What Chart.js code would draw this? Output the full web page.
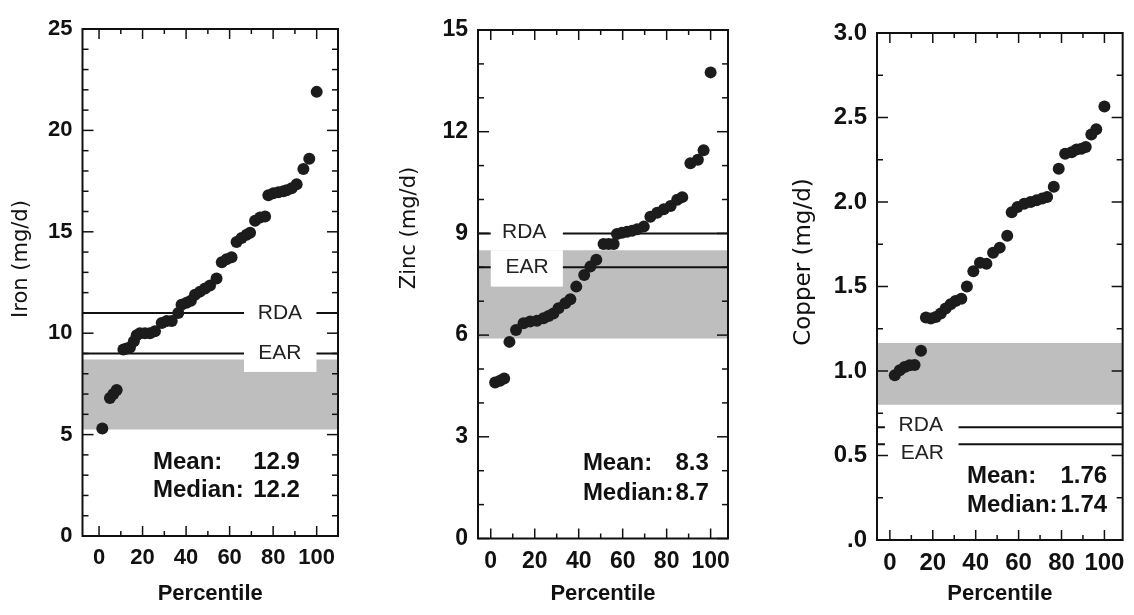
<!DOCTYPE html>
<html>
<head>
<meta charset="utf-8">
<script src="https://cdn.jsdelivr.net/npm/chart.js@4.4.1/dist/chart.umd.min.js"></script>
<style>
  html, body { margin: 0; padding: 0; background: #fff; }
  #wrap { position: relative; width: 1134px; height: 615px; overflow: hidden; }
  .panel { position: absolute; top: 0; height: 615px; }
  #p1 { left: 0; width: 380px; }
  #p2 { left: 380px; width: 380px; }
  #p3 { left: 760px; width: 374px; }
</style>
</head>
<body>
<div id="wrap">
  <div class="panel" id="p1"><canvas id="c1"></canvas></div>
  <div class="panel" id="p2"><canvas id="c2"></canvas></div>
  <div class="panel" id="p3"><canvas id="c3"></canvas></div>
</div>
<script>
// valeurs (percentile, apport en mg/d)
var ironPct = [1.5, 5, 6.6, 8.1, 11.2, 12.7, 14.2, 16, 17.3, 18.8, 21.1, 23.4, 25.7, 28.8, 31.1, 33.4, 36.4, 37.9, 40.2, 42.2, 44.1, 46.4, 48.7, 51, 54, 56.4, 58.6, 60.9, 63.2, 65.5, 67.8, 69.4, 71.7, 74, 76.3, 77.8, 80.1, 82.4, 84.7, 86.2, 88.5, 90.8, 93.9, 96.6, 100];
var ironVal = [5.3, 6.8, 7.0, 7.2, 9.2, 9.25, 9.3, 9.6, 9.9, 10.0, 10.0, 10.0, 10.1, 10.5, 10.6, 10.6, 11.0, 11.4, 11.5, 11.6, 11.9, 12.05, 12.2, 12.35, 12.7, 13.5, 13.65, 13.75, 14.5, 14.7, 14.85, 14.95, 15.55, 15.7, 15.75, 16.8, 16.9, 16.95, 17.0, 17.05, 17.15, 17.35, 18.1, 18.6, 21.9];

var zincPct = [2, 4.2, 6.1, 8.5, 11.5, 14.9, 17.9, 21, 24, 26.3, 28.5, 30.8, 33.9, 36.2, 38.9, 42.5, 45.3, 48, 51.3, 53.6, 55.9, 57.4, 59.7, 62, 64.3, 66.6, 69.6, 72.6, 75.7, 78.7, 81.8, 84.8, 87.1, 90.8, 94.2, 96.8, 100];
var zincVal = [4.6, 4.65, 4.72, 5.8, 6.15, 6.35, 6.4, 6.42, 6.5, 6.56, 6.64, 6.79, 6.94, 7.06, 7.43, 7.77, 8.02, 8.22, 8.69, 8.69, 8.69, 8.98, 9.02, 9.05, 9.08, 9.12, 9.2, 9.49, 9.61, 9.71, 9.81, 9.99, 10.07, 11.07, 11.17, 11.45, 13.75];

var copperPct = [2.3, 4.6, 6.9, 9.2, 11.5, 14.5, 16.8, 19.1, 21.4, 23.7, 26, 28.3, 30.6, 33.3, 35.9, 38.9, 42, 45, 48.1, 51.2, 54.7, 56.8, 59.5, 62.6, 65.6, 68.4, 71, 73.3, 76.4, 78.7, 81.7, 84.7, 87, 89.3, 91.3, 93.9, 96.2, 100];
var copperVal = [0.975, 1.005, 1.024, 1.034, 1.035, 1.12, 1.316, 1.31, 1.32, 1.34, 1.37, 1.395, 1.414, 1.428, 1.5, 1.59, 1.64, 1.635, 1.7, 1.73, 1.8, 1.94, 1.97, 1.99, 2.0, 2.01, 2.02, 2.03, 2.09, 2.197, 2.285, 2.295, 2.31, 2.315, 2.325, 2.4, 2.43, 2.565];

var pctTicks = [0, 20, 40, 60, 80, 100];
var ironTicks = [0, 5, 10, 15, 20, 25];
var zincTicks = [0, 3, 6, 9, 12, 15];
var copperTicks = [0, 0.5, 1.0, 1.5, 2.0, 2.5, 3.0];

// RDA, EAR, bande grise [bas, haut], moyenne et mediane
var ironRef = [11, 9];
var zincRef = [9, 8];
var copperRef = [0.667, 0.567];
var ironBand = [5.25, 8.7];
var zincBand = [5.9, 8.5];
var copperBand = [0.8, 1.165];
var ironStats = ['12.9', '12.2'];
var zincStats = ['8.3', '8.7'];
var copperStats = ['1.76', '1.74'];

var tickFont = "'Liberation Sans', Arial, sans-serif";
var wideFont = "'DejaVu Sans', sans-serif";

// mise en page de chaque panneau (pixels + positions en unites des axes)
var panels = {
  c1: {
    pct: ironPct, val: ironVal, yTicks: ironTicks, ref: ironRef, band: ironBand, stats: ironStats,
    xMin: -7.6, xMax: 109.8, yMax: 25, minor: 1,
    pad: { top: 29, right: 42 }, leftW: 82.5, bottomH: 79,
    title: 'Iron (mg/d)', titlePos: [22, 259], titleSize: 21, tickSize: 22,
    labels: [
      { text: 'RDA', x: 83.1, y: 11, box: [66.6, 99.9, 10.0, 12.0] },
      { text: 'EAR', x: 83.1, y: 9, box: [66.6, 99.9, 8.09, 10.0] }
    ],
    statPos: { left: 24.8, right: 92.3, mean: 3.65, median: 2.27 }
  },
  c2: {
    pct: zincPct, val: zincVal, yTicks: zincTicks, ref: zincRef, band: zincBand, stats: zincStats,
    xMin: -5.8, xMax: 107.9, yMax: 15, minor: 1,
    pad: { top: 30, right: 32 }, leftW: 98, bottomH: 76.5,
    title: 'Zinc (mg/d)', titlePos: [30, 228], titleSize: 21, tickSize: 23,
    labels: [
      { text: 'RDA', x: 15.2, y: 9.05, box: [0, 32.8, 8.5, 9.6] },
      { text: 'EAR', x: 16.5, y: 8.0, box: [0, 32.8, 7.43, 8.5] }
    ],
    statPos: { left: 41.9, right: 99.2, mean: 2.22, median: 1.33 }
  },
  c3: {
    pct: copperPct, val: copperVal, yTicks: copperTicks, ref: copperRef, band: copperBand, stats: copperStats,
    xMin: -6, xMax: 108.5, yMax: 3, minor: 0.25,
    pad: { top: 33, right: 7.5 }, leftW: 117, bottomH: 75,
    title: 'Copper (mg/d)', titlePos: [44, 262], titleSize: 23, tickSize: 24,
    labels: [
      { text: 'RDA', x: 14.4, y: 0.68, box: [-2.3, 32, 0.605, 0.76] },
      { text: 'EAR', x: 15.1, y: 0.514, box: [-2.3, 32, 0.44, 0.605] }
    ],
    statPos: { left: 35.9, right: 101.3, mean: 0.374, median: 0.207 }
  }
};

function line(ctx, x1, y1, x2, y2) {
  ctx.beginPath();
  ctx.moveTo(x1, y1);
  ctx.lineTo(x2, y2);
  ctx.stroke();
}

var figurePlugin = {
  id: 'figure',
  // boites blanches des etiquettes RDA / EAR, sous les points
  beforeDatasetDraw: function (chart, args) {
    if (!chart.data.datasets[args.index].isDots) return;
    var p = panels[chart.canvas.id];
    var ctx = chart.ctx, xs = chart.scales.x, ys = chart.scales.y;
    ctx.save();
    p.labels.forEach(function (l) {
      var x0 = xs.getPixelForValue(l.box[0]), x1 = xs.getPixelForValue(l.box[1]);
      var y0 = ys.getPixelForValue(l.box[3]), y1 = ys.getPixelForValue(l.box[2]);
      ctx.fillStyle = '#fff';
      ctx.fillRect(x0, y0, x1 - x0, y1 - y0);
      ctx.fillStyle = '#222';
      ctx.font = '21px ' + tickFont;
      ctx.textAlign = 'center';
      ctx.textBaseline = 'middle';
      ctx.fillText(l.text, xs.getPixelForValue(l.x), ys.getPixelForValue(l.y));
    });
    ctx.restore();
  },
  afterDraw: function (chart) {
    var p = panels[chart.canvas.id];
    var ctx = chart.ctx, a = chart.chartArea, xs = chart.scales.x, ys = chart.scales.y;
    ctx.save();
    ctx.strokeStyle = '#111';
    ctx.lineWidth = 2;
    ctx.strokeRect(a.left, a.top, a.right - a.left, a.bottom - a.top);
    ctx.lineWidth = 1.5;
    // petites graduations vers l'interieur, sur les 4 cotes
    var v, px, len;
    for (v = 0; v <= 100.001; v += 10) {
      px = xs.getPixelForValue(v);
      len = (Math.round(v) % 20 === 0) ? 10 : 5;
      line(ctx, px, a.bottom, px, a.bottom - len);
      line(ctx, px, a.top, px, a.top + len);
    }
    var major = p.yTicks[1] - p.yTicks[0];
    for (v = 0; v <= p.yMax + 1e-6; v += p.minor) {
      px = ys.getPixelForValue(v);
      var r = v / major;
      len = (Math.abs(r - Math.round(r)) < 1e-6) ? 11 : 6;
      line(ctx, a.left, px, a.left + len, px);
      line(ctx, a.right, px, a.right - len, px);
    }
    // moyenne et mediane
    ctx.fillStyle = '#111';
    ctx.font = 'bold 24px ' + tickFont;
    ctx.textBaseline = 'middle';
    var sx0 = xs.getPixelForValue(p.statPos.left), sx1 = xs.getPixelForValue(p.statPos.right);
    var ym = ys.getPixelForValue(p.statPos.mean), yd = ys.getPixelForValue(p.statPos.median);
    ctx.textAlign = 'left';
    ctx.fillText('Mean:', sx0, ym);
    ctx.fillText('Median:', sx0, yd);
    ctx.textAlign = 'right';
    ctx.fillText(p.stats[0], sx1, ym);
    ctx.fillText(p.stats[1], sx1, yd);
    // titre de l'axe y
    ctx.translate(p.titlePos[0], p.titlePos[1]);
    ctx.rotate(-Math.PI / 2);
    ctx.textAlign = 'center';
    ctx.font = p.titleSize + 'px ' + wideFont;
    ctx.fillStyle = '#111';
    ctx.fillText(p.title, 0, 0);
    ctx.restore();
  }
};

function yLabel(value) {
  return this.chart.canvas.id === 'c3' ? (value === 0 ? '.0' : value.toFixed(1)) : String(value);
}

function makeChart(id) {
  var p = panels[id];
  var dots = p.pct.map(function (x, i) { return { x: x, y: p.val[i] }; });
  var flat = function (y) { return [{ x: p.xMin, y: y }, { x: p.xMax, y: y }]; };
  return new Chart(document.getElementById(id), {
    type: 'scatter',
    data: {
      datasets: [{
        type: 'line', data: flat(p.band[1]), fill: { value: p.band[0] },
        backgroundColor: '#bebebe', borderWidth: 0, pointRadius: 0, showLine: true, order: 3
      }, {
        type: 'line', data: flat(p.ref[0]), borderColor: '#111', borderWidth: 2,
        pointRadius: 0, fill: false, showLine: true, order: 2
      }, {
        type: 'line', data: flat(p.ref[1]), borderColor: '#111', borderWidth: 2,
        pointRadius: 0, fill: false, showLine: true, order: 2
      }, {
        data: dots, backgroundColor: '#1c1c1c', borderWidth: 0, pointRadius: 6,
        pointHoverRadius: 6, order: 1, isDots: true
      }]
    },
    options: {
      responsive: true,
      maintainAspectRatio: false,
      animation: false,
      layout: { padding: { top: p.pad.top, right: p.pad.right, left: 0, bottom: 0 } },
      plugins: { legend: { display: false }, tooltip: { enabled: false } },
      scales: {
        x: {
          type: 'linear', min: p.xMin, max: p.xMax,
          afterBuildTicks: function (s) { s.ticks = pctTicks.map(function (v) { return { value: v }; }); },
          afterFit: function (s) { s.height = p.bottomH; },
          grid: { display: false, drawTicks: false },
          border: { display: false },
          ticks: { padding: 9, color: '#111', maxRotation: 0, autoSkip: false, font: { family: tickFont, size: p.tickSize, weight: 'bold' } },
          title: { display: true, text: 'Percentile', color: '#111', font: { family: tickFont, size: 22, weight: 'bold' }, padding: { top: 0, bottom: 8 } }
        },
        y: {
          type: 'linear', min: 0, max: p.yMax,
          afterBuildTicks: function (s) { s.ticks = p.yTicks.map(function (v) { return { value: v }; }); },
          afterFit: function (s) { s.width = p.leftW; },
          grid: { display: false, drawTicks: false },
          border: { display: false },
          ticks: { padding: 10, color: '#111', callback: yLabel, font: { family: tickFont, size: p.tickSize, weight: 'bold' } }
        }
      }
    },
    plugins: [figurePlugin]
  });
}

makeChart('c1');
makeChart('c2');
makeChart('c3');
</script>
</body>
</html>
